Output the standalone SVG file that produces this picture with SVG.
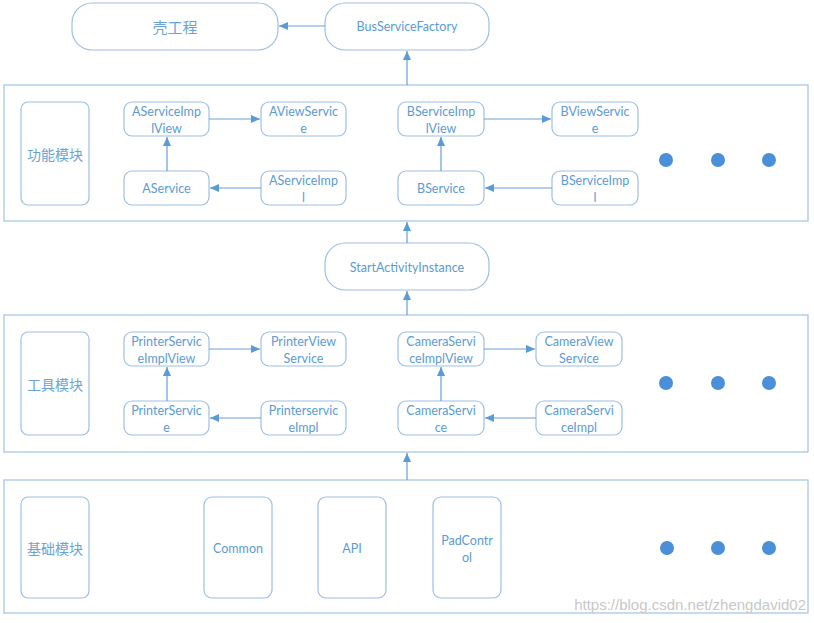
<svg xmlns="http://www.w3.org/2000/svg" width="814" height="623" viewBox="0 0 814 623">
<style>
.panel{fill:#fff;stroke:#a9c6e8;stroke-width:1.3}
.box{fill:#fff;stroke:#9dbfe4;stroke-width:1.2}
.t{font-family:Lato,"Open Sans","Noto Sans CJK SC",sans-serif;font-size:12.5px;fill:#5b9bd5;text-anchor:middle;dominant-baseline:central}
.cn{font-family:"Noto Sans CJK SC","Noto Sans",sans-serif;font-size:14px;fill:#6aa3d8;text-anchor:middle;dominant-baseline:central}
.cn2{font-size:15px}
.c{stroke:#6a9fd6;stroke-width:1.2;fill:none;marker-end:url(#ah)}
.dot{fill:#4a8fd8}
.wm{font-family:"Liberation Sans",Arial,sans-serif;font-size:15px;fill:#c8c8c8}
</style>
<defs>
<marker id="ah" markerWidth="10" markerHeight="8" refX="9" refY="4" orient="auto" markerUnits="userSpaceOnUse">
<path d="M0,0 L9,4 L0,8 Z" fill="#5b9bd5"/>
</marker>
</defs>
<g id="panels">
<rect class="panel" x="4" y="85" width="804" height="136"/>
<rect class="panel" x="4" y="315" width="804" height="137"/>
<rect class="panel" x="4" y="480" width="804" height="133"/>
</g>
<g id="shell"><rect class="box" x="72" y="3" width="206" height="47" rx="20"/><text class="cn cn2" x="175" y="26">壳工程</text></g>
<g id="busServiceFactory"><rect class="box" x="325" y="3" width="164" height="47" rx="20"/><text class="t" x="407" y="26">BusServiceFactory</text></g>
<g id="startActivityInstance"><rect class="box" x="325" y="243" width="164" height="47" rx="20"/><text class="t" x="407" y="267">StartActivityInstance</text></g>

<g id="gongneng"><rect class="box" x="21" y="102" width="68" height="103" rx="7"/><text class="cn" x="55" y="154">功能模块</text></g>
<g id="aServiceImplView"><rect class="box" x="124" y="102" width="85" height="34" rx="8"/><text class="t" x="166.5" y="111">AServiceImp</text><text class="t" x="166.5" y="128">lView</text></g>
<g id="aViewService"><rect class="box" x="261" y="102" width="85" height="34" rx="8"/><text class="t" x="303.5" y="111">AViewServic</text><text class="t" x="303.5" y="128">e</text></g>
<g id="aService"><rect class="box" x="124" y="171" width="85" height="34" rx="8"/><text class="t" x="166.5" y="188">AService</text></g>
<g id="aServiceImpl"><rect class="box" x="261" y="171" width="85" height="34" rx="8"/><text class="t" x="303.5" y="180">AServiceImp</text><text class="t" x="303.5" y="197">l</text></g>
<g id="bServiceImplView"><rect class="box" x="398" y="102" width="86" height="34" rx="8"/><text class="t" x="441" y="111">BServiceImp</text><text class="t" x="441" y="128">lView</text></g>
<g id="bViewService"><rect class="box" x="552" y="102" width="86" height="34" rx="8"/><text class="t" x="595" y="111">BViewServic</text><text class="t" x="595" y="128">e</text></g>
<g id="bService"><rect class="box" x="398" y="171" width="86" height="34" rx="8"/><text class="t" x="441" y="188">BService</text></g>
<g id="bServiceImpl"><rect class="box" x="552" y="171" width="86" height="34" rx="8"/><text class="t" x="595" y="180">BServiceImp</text><text class="t" x="595" y="197">l</text></g>
<g id="dots1"><circle class="dot" cx="666" cy="160" r="7"/><circle class="dot" cx="718" cy="160" r="7"/><circle class="dot" cx="769" cy="160" r="7"/></g>

<g id="gongju"><rect class="box" x="21" y="332" width="68" height="103" rx="7"/><text class="cn" x="55" y="384">工具模块</text></g>
<g id="printerServiceImplView"><rect class="box" x="124" y="332" width="85" height="34" rx="8"/><text class="t" x="166.5" y="341">PrinterServic</text><text class="t" x="166.5" y="358">eImplView</text></g>
<g id="printerViewService"><rect class="box" x="261" y="332" width="85" height="34" rx="8"/><text class="t" x="303.5" y="341">PrinterView</text><text class="t" x="303.5" y="358">Service</text></g>
<g id="printerService"><rect class="box" x="124" y="401" width="85" height="34" rx="8"/><text class="t" x="166.5" y="410">PrinterServic</text><text class="t" x="166.5" y="427">e</text></g>
<g id="printerserviceImpl"><rect class="box" x="261" y="401" width="85" height="34" rx="8"/><text class="t" x="303.5" y="410">Printerservic</text><text class="t" x="303.5" y="427">eImpl</text></g>
<g id="cameraServiceImplView"><rect class="box" x="398" y="332" width="86" height="34" rx="8"/><text class="t" x="441" y="341">CameraServi</text><text class="t" x="441" y="358">ceImplView</text></g>
<g id="cameraViewService"><rect class="box" x="536" y="332" width="86" height="34" rx="8"/><text class="t" x="579" y="341">CameraView</text><text class="t" x="579" y="358">Service</text></g>
<g id="cameraService"><rect class="box" x="398" y="401" width="86" height="34" rx="8"/><text class="t" x="441" y="410">CameraServi</text><text class="t" x="441" y="427">ce</text></g>
<g id="cameraServiceImpl"><rect class="box" x="536" y="401" width="86" height="34" rx="8"/><text class="t" x="579" y="410">CameraServi</text><text class="t" x="579" y="427">ceImpl</text></g>
<g id="dots2"><circle class="dot" cx="666" cy="383" r="7"/><circle class="dot" cx="718" cy="383" r="7"/><circle class="dot" cx="769" cy="383" r="7"/></g>

<g id="jichu"><rect class="box" x="21" y="497" width="68" height="101" rx="7"/><text class="cn" x="55" y="548">基础模块</text></g>
<g id="common"><rect class="box" x="204" y="497" width="68" height="101" rx="8"/><text class="t" x="238" y="548">Common</text></g>
<g id="api"><rect class="box" x="318" y="497" width="68" height="101" rx="8"/><text class="t" x="352" y="548">API</text></g>
<g id="padControl"><rect class="box" x="433" y="497" width="68" height="101" rx="8"/><text class="t" x="467" y="540">PadContr</text><text class="t" x="467" y="557">ol</text></g>
<g id="dots3"><circle class="dot" cx="667" cy="548" r="7"/><circle class="dot" cx="718" cy="548" r="7"/><circle class="dot" cx="769" cy="548" r="7"/></g>

<g id="connectors">
<line class="c" x1="325" y1="26" x2="279" y2="26"/>
<line class="c" x1="407" y1="85" x2="407" y2="51"/>
<line class="c" x1="407" y1="243" x2="407" y2="222"/>
<line class="c" x1="407" y1="315" x2="407" y2="291"/>
<line class="c" x1="407" y1="480" x2="407" y2="453"/>
<line class="c" x1="209" y1="119" x2="260" y2="119"/>
<line class="c" x1="167" y1="171" x2="167" y2="137"/>
<line class="c" x1="261" y1="188" x2="210" y2="188"/>
<line class="c" x1="484" y1="119" x2="551" y2="119"/>
<line class="c" x1="441" y1="171" x2="441" y2="137"/>
<line class="c" x1="552" y1="188" x2="485" y2="188"/>
<line class="c" x1="209" y1="349" x2="260" y2="349"/>
<line class="c" x1="167" y1="401" x2="167" y2="367"/>
<line class="c" x1="261" y1="418" x2="210" y2="418"/>
<line class="c" x1="484" y1="349" x2="535" y2="349"/>
<line class="c" x1="441" y1="401" x2="441" y2="367"/>
<line class="c" x1="536" y1="418" x2="485" y2="418"/>
</g>
<text class="wm" x="806" y="610" text-anchor="end">https://blog.csdn.net/zhengdavid02</text>
</svg>
